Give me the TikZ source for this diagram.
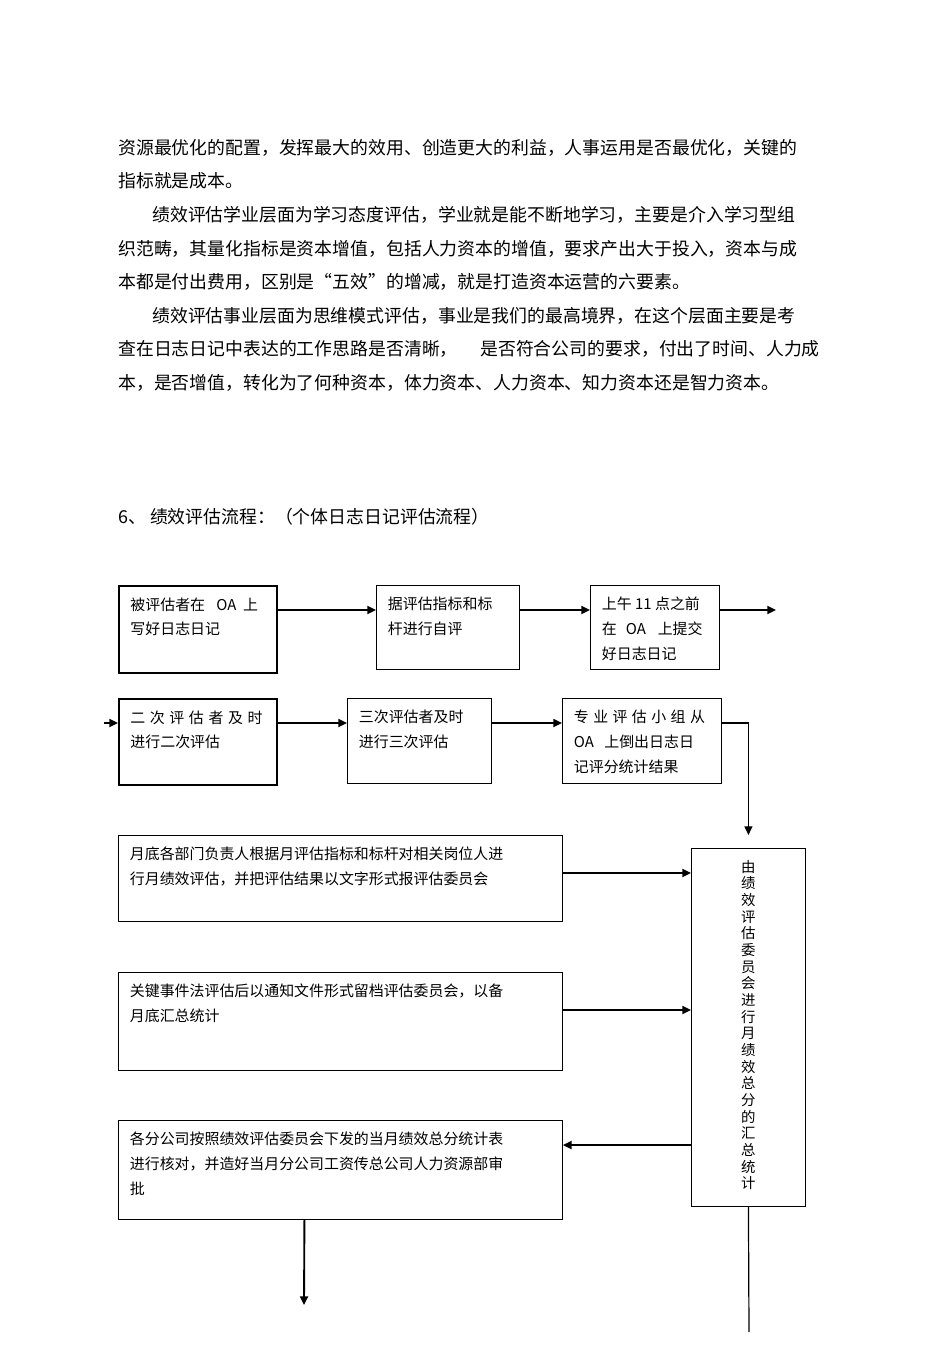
\documentclass[tikz,border=0pt]{standalone}
\usepackage{fontspec}
\setmainfont{Noto Sans CJK SC}
\usetikzlibrary{arrows.meta}
\newlength{\pxu}
\setlength{\pxu}{0.75pt}
\newcommand{\boxtext}[3]{\parbox[t][#2\pxu][t]{#1\pxu}{\raggedright #3}}

\begin{document}
\begin{tikzpicture}[
        x=0.75pt, y=-0.75pt, % one unit = one pixel of the page
        font=\fontsize{11.2pt}{18.6pt}\selectfont,
        para/.style={anchor=west, inner sep=0pt, font=\fontsize{13.4pt}{16pt}\selectfont},
        box/.style={rectangle, draw=black, line width=0.9pt, anchor=north west, inner sep=8.5pt},
        thickbox/.style={box, line width=1.7pt},
        flow/.style={-{Triangle[length=6.5pt,width=6pt]}, line width=1.4pt},
        thinflow/.style={flow, line width=0.9pt}
    ]
    \useasboundingbox (0,0) rectangle (950,1345);

    % Body text
    \node[para] (l1) at (118,148) {资源最优化的配置，发挥最大的效用、创造更大的利益，人事运用是否最优化，关键的};
    \node[para] (l2) at (118,181) {指标就是成本。};
    \node[para] (l3) at (152,215) {绩效评估学业层面为学习态度评估，学业就是能不断地学习，主要是介入学习型组};
    \node[para] (l4) at (118,249) {织范畴，其量化指标是资本增值，包括人力资本的增值，要求产出大于投入，资本与成};
    \node[para] (l5) at (118,282) {本都是付出费用，区别是“五效”的增减，就是打造资本运营的六要素。};
    \node[para] (l6) at (152,316) {绩效评估事业层面为思维模式评估，事业是我们的最高境界，在这个层面主要是考};
    \node[para] (l7) at (118,349) {查在日志日记中表达的工作思路是否清晰，\hspace{17pt}是否符合公司的要求，付出了时间、人力成};
    \node[para] (l8) at (118,383) {本，是否增值，转化为了何种资本，体力资本、人力资本、知力资本还是智力资本。};

    % Heading
    \node[para] (title) at (118,517) {6、 绩效评估流程：（个体日志日记评估流程）};

    % Row 1: daily diary
    \node[thickbox] (write) at (118,585) {\boxtext{135}{64}{被评估者在\hspace{0.75em}OA\hspace{0.45em}上\\写好日志日记}};
    \node[box] (self) at (376,585) {\boxtext{120}{61}{据评估指标和标\\杆进行自评}};
    \node[box] (submit) at (590,585) {\boxtext{106}{61}{上午 11 点之前\\在\hspace{0.6em}OA\hspace{0.8em}上提交\\好日志日记}};
    \coordinate (next) at (776,610);

    % Row 2: second and third review
    \coordinate (start) at (104,723);
    \node[thickbox] (second) at (118,698) {\boxtext{135}{63}{\makebox[132\pxu][s]{二 次 评 估 者 及 时}\\进行二次评估}};
    \node[box] (third) at (347,698) {\boxtext{121}{62}{三次评估者及时\\进行三次评估}};
    \node[box] (team) at (562,698) {\boxtext{136}{62}{\makebox[131\pxu][s]{专 业 评 估 小 组 从}\\OA\hspace{0.7em}上倒出日志日\\记评分统计结果}};

    % Monthly review
    \node[box] (dept) at (118,835) {\boxtext{421}{63}{月底各部门负责人根据月评估指标和标杆对相关岗位人进\\行月绩效评估，并把评估结果以文字形式报评估委员会}};
    \node[box] (event) at (118,972) {\boxtext{421}{75}{关键事件法评估后以通知文件形式留档评估委员会，以备\\月底汇总统计}};
    \node[box] (branch) at (118,1120) {\boxtext{421}{76}{各分公司按照绩效评估委员会下发的当月绩效总分统计表\\进行核对，并造好当月分公司工资传总公司人力资源部审\\批}};
    \node[box] (committee) at (691,848) {\boxtext{91}{335}{\centering\fontsize{10.8pt}{12.5pt}\selectfont
        由\\绩\\效\\评\\估\\委\\员\\会\\进\\行\\月\\绩\\效\\总\\分\\的\\汇\\总\\统\\计}};
    \coordinate (down) at (304,1305);
    \coordinate (tail) at (749,1332);

    % Connectors
    \draw[flow] ([yshift=-18.75pt]write.north east) -- ([yshift=-18.75pt]self.north west);
    \draw[flow] ([yshift=-18.75pt]self.north east) -- ([yshift=-18.75pt]submit.north west);
    \draw[flow] ([yshift=-18.75pt]submit.north east) -- (next);
    \draw[flow] (start) -- ([yshift=-18.75pt]second.north west);
    \draw[flow] ([yshift=-18.75pt]second.north east) -- ([yshift=-18.75pt]third.north west);
    \draw[flow] ([yshift=-18.75pt]third.north east) -- ([yshift=-18.75pt]team.north west);
    \draw[thinflow] ([yshift=-18.75pt]team.north east) -| ([yshift=9.75pt]committee.north);

    \coordinate (deptout) at ([yshift=-28.5pt]dept.north east);
    \coordinate (eventout) at ([yshift=-28.5pt]event.north east);
    \coordinate (branchin) at ([yshift=-18.75pt]branch.north east);
    \draw[flow] (deptout) -- (deptout -| committee.west);
    \draw[flow] (eventout) -- (eventout -| committee.west);
    \draw[flow] (branchin -| committee.west) -- (branchin);
    \draw[flow] ([xshift=-27pt]branch.south) -- (down);
    \draw[line width=0.9pt] (committee.south) -- (tail);

\end{tikzpicture}
\end{document}
